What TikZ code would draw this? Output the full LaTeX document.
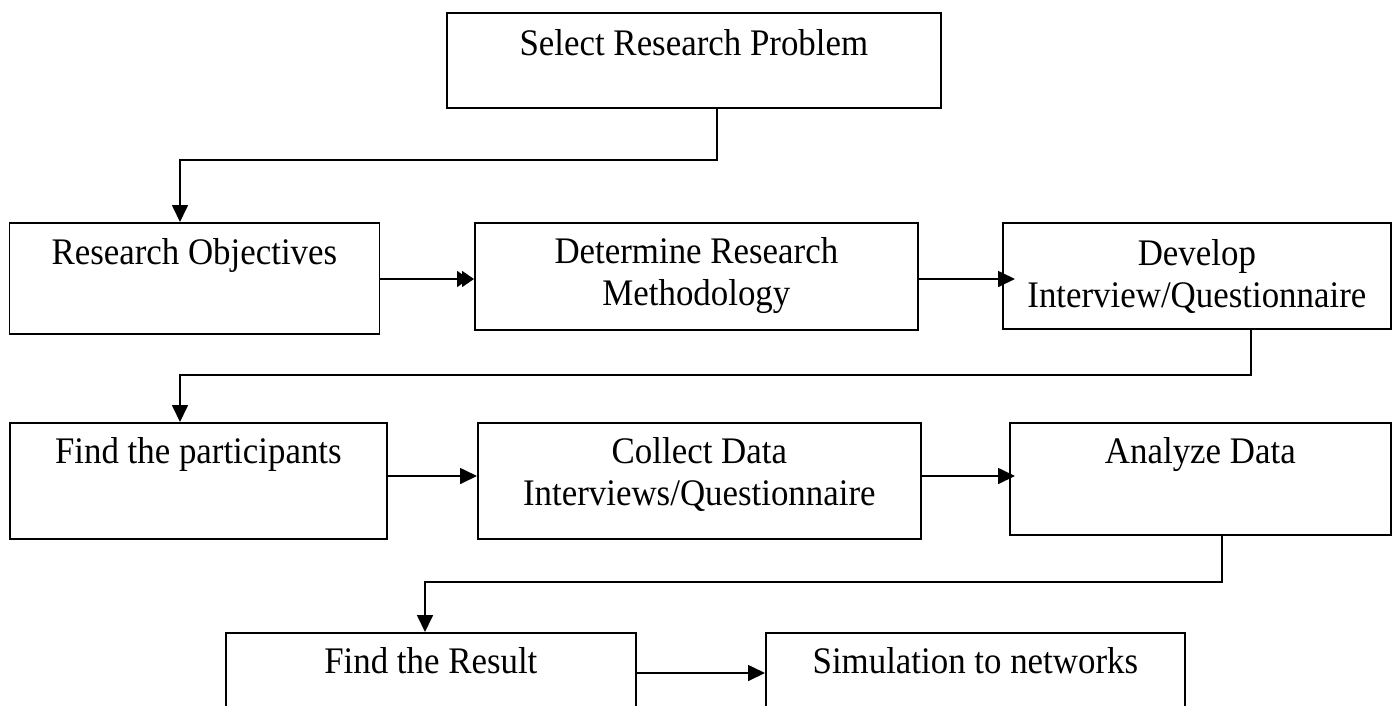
\documentclass[tikz,border=0pt]{standalone}
\usepackage{fontspec}
\setmainfont[FakeStretch=0.93]{Liberation Serif}
\usetikzlibrary{arrows.meta,calc}
\newcommand\firststrut{\rule{0pt}{30pt}}
\tikzset{
  box/.style={draw=black, line width=1.7pt, fill=white, inner sep=0pt, anchor=north west},
  lbl/.style={inner sep=0pt, anchor=north, align=center, font=\fontsize{37.5pt}{42pt}\selectfont},
  conn/.style={draw=black, line width=1.7pt},
  arr/.style={conn, -{Triangle[length=17pt,width=16pt]}},
  darr/.style={conn, -{Triangle[length=12pt,width=16pt,sep=-7pt]Triangle[length=12pt,width=16pt]}}
}
\begin{document}
\begin{tikzpicture}[x=1pt,y=-1pt]
\useasboundingbox (0,0) rectangle (1398,705);
\clip (0,0) rectangle (1398,705);
\fill[white] (0,0) rectangle (1398,705);
% boxes
\node[box, minimum width=494pt, minimum height=95pt]  (b1) at (446,12) {};
\node[box, minimum width=370pt, minimum height=111pt] (b2) at (8.5,222) {};
\node[box, minimum width=443pt, minimum height=107pt] (b3) at (474,222) {};
\node[box, minimum width=388pt, minimum height=106pt] (b4) at (1002,222) {};
\node[box, minimum width=377pt, minimum height=116pt] (b5) at (9,422) {};
\node[box, minimum width=443pt, minimum height=116pt] (b6) at (477,422) {};
\node[box, minimum width=381pt, minimum height=112pt] (b7) at (1009,422) {};
\node[box, minimum width=410pt, minimum height=120pt] (b8) at (225,632) {};
\node[box, minimum width=419pt, minimum height=120pt] (b9) at (765,632) {};
% texts (first baseline about 42 below the box top)
\node[lbl] (t1) at ($(b1.north)+(0,13)$) {\firststrut Select Research Problem};
\node[lbl] (t2) at ($(b2.north)+(0,12)$) {\firststrut Research Objectives};
\node[lbl] (t3) at ($(b3.north)+(0,11)$) {\firststrut Determine Research\\Methodology};
\node[lbl] (t4) at ($(b4.north)+(0,13)$) {\firststrut Develop\\Interview/Questionnaire};
\node[lbl] (t5) at ($(b5.north)+(0,11)$) {\firststrut Find the participants};
\node[lbl] (t6) at ($(b6.north)+(0,11)$) {\firststrut Collect Data\\Interviews/Questionnaire};
\node[lbl] (t7) at ($(b7.north)+(0,11)$) {\firststrut Analyze Data};
\node[lbl] (t8) at ($(b8.north)+(0,11)$) {\firststrut Find the Result};
\node[lbl] (t9) at ($(b9.north)+(0,11)$) {\firststrut Simulation to networks};
% connectors
\coordinate (k1) at (717,160);
\draw[arr] (b1.south -| k1) -- (k1) -- (k1 -| 180,0) -- (b2.north -| 180,0);
\draw[darr] (b2.east |- 0,279) -- (b3.west |- 0,279);
\draw[arr, shorten >=-13pt] (b3.east |- 0,279) -- (b4.west |- 0,279);
\coordinate (k2) at (1251,375);
\draw[arr] (b4.south -| k2) -- (k2) -- (k2 -| 180,0) -- (b5.north -| 180,0);
\draw[arr] (b5.east |- 0,476) -- (b6.west |- 0,476);
\draw[arr, shorten >=-6pt] (b6.east |- 0,476) -- (b7.west |- 0,476);
\coordinate (k3) at (1222,582);
\draw[arr] (b7.south -| k3) -- (k3) -- (k3 -| 425,0) -- (b8.north -| 425,0);
\draw[arr] (b8.east |- 0,673) -- (b9.west |- 0,673);
\end{tikzpicture}
\end{document}
